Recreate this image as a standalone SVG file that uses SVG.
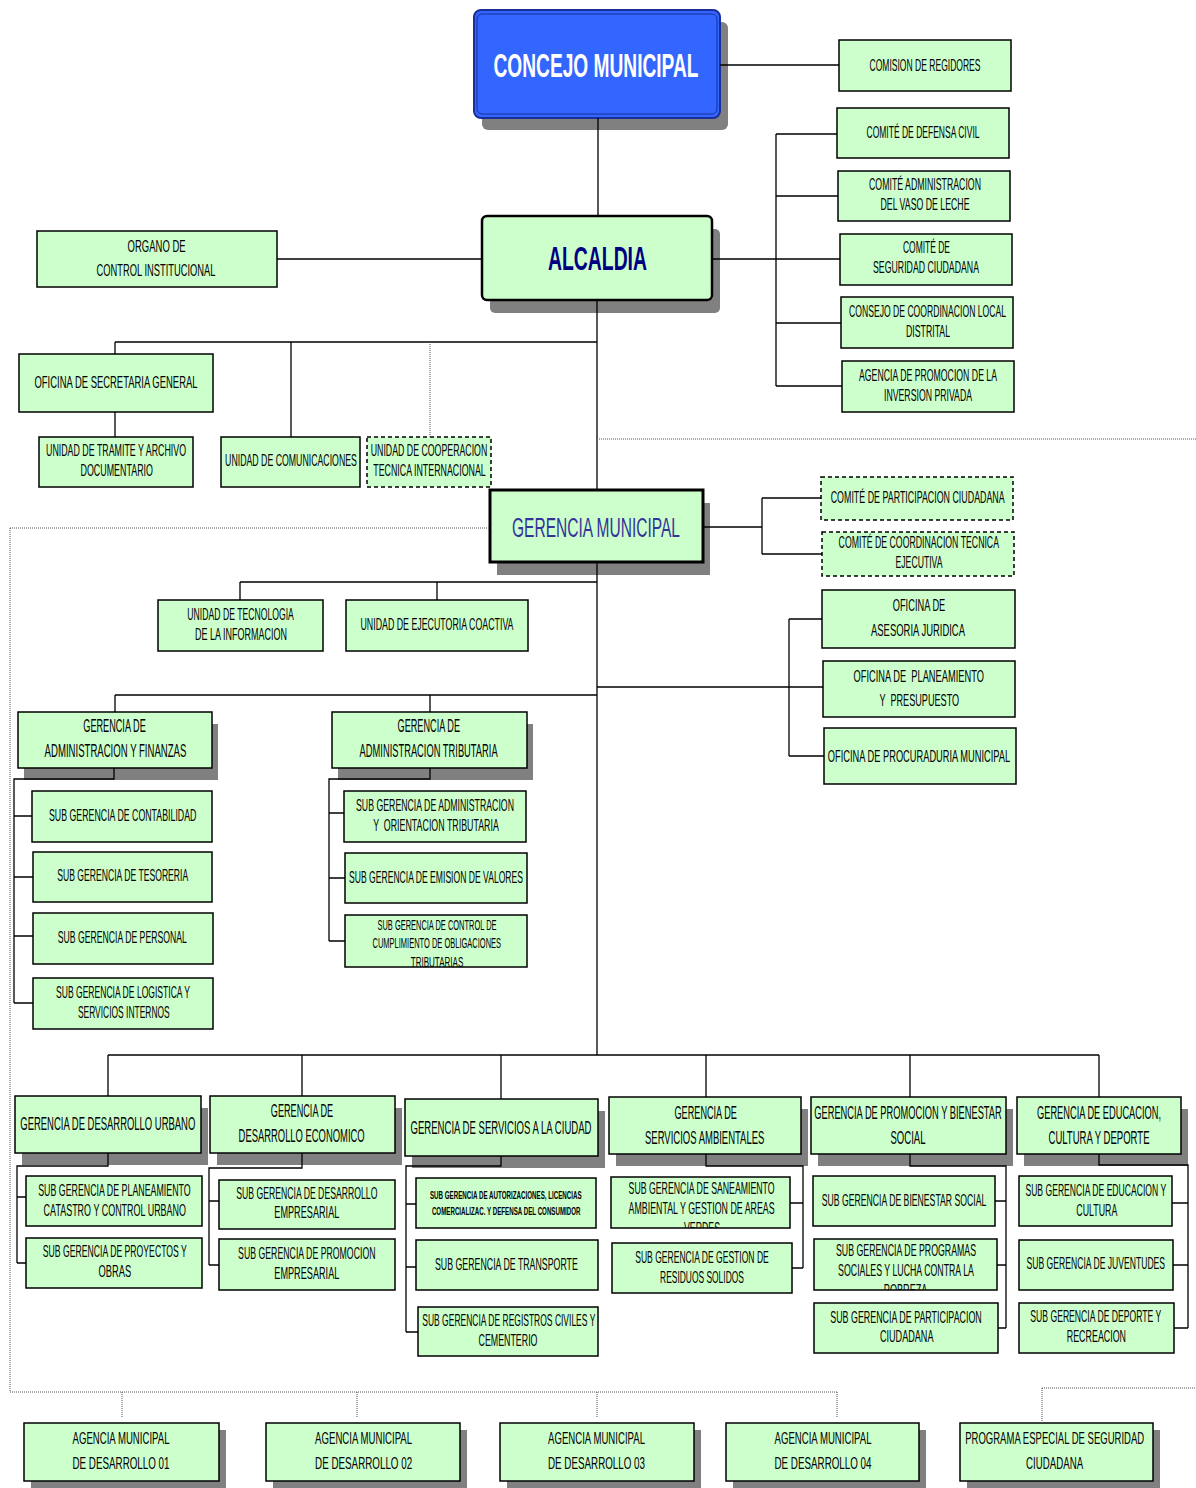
<svg xmlns="http://www.w3.org/2000/svg" width="1196" height="1488" viewBox="0 0 1196 1488">
<style>
.b{fill:#ccffcc;stroke:#000;stroke-width:1.5}
.bd{fill:#ccffcc;stroke:#000;stroke-width:1.5;stroke-dasharray:4 3}
.sh{fill:#808080}
text{font-family:"Liberation Sans",Arial,sans-serif;text-anchor:middle;fill:#000}
.t{font-size:16px}
.h{font-size:18px}
.s{font-size:14px}
.x{font-size:10px;font-weight:bold}
.c{stroke:#000;stroke-width:1.3;fill:none}
.d{stroke:#555;stroke-width:1;stroke-dasharray:1 1;fill:none}
</style>
<defs>
<clipPath id="clipCtrl"><rect x="345" y="915" width="182" height="52"/></clipPath>
<clipPath id="clipSan"><rect x="611" y="1177" width="179" height="51"/></clipPath>
<clipPath id="clipProg"><rect x="814" y="1239" width="183" height="51"/></clipPath>
</defs>
<rect width="1196" height="1488" fill="#fff"/>

<g id="concejo-municipal">
<rect class="sh" x="482" y="22" width="246" height="108" rx="6"/>
<rect x="474" y="10" width="246" height="108" rx="7" fill="#3366ff" stroke="#1a2f99" stroke-width="2"/>
<rect x="477" y="14" width="240" height="100" rx="5" fill="none" stroke="#1a2f99" stroke-width="1"/>
<text transform="translate(596 77) scale(.56 1)" style="font-size:34px;font-weight:bold;fill:#fff" textLength="366.1" lengthAdjust="spacingAndGlyphs">CONCEJO MUNICIPAL</text>
</g>
<g id="comision-regidores"><rect class="b" x="839" y="40" width="172" height="51"/><text class="t" transform="translate(925 70.7) scale(.535 1)" textLength="207.5" lengthAdjust="spacingAndGlyphs">COMISION DE REGIDORES</text></g>

<g id="alcaldia">
<rect class="sh" x="490" y="229" width="230" height="84" rx="5"/>
<rect x="482" y="216" width="230" height="84" rx="5" fill="#ccffcc" stroke="#000" stroke-width="2.5"/>
<text transform="translate(597.5 270) scale(.57 1)" style="font-size:34px;font-weight:bold;fill:#000080" textLength="173.7" lengthAdjust="spacingAndGlyphs">ALCALDIA</text>
</g>
<g id="organo-control"><rect class="b" x="37" y="231" width="240" height="56"/><text class="t" transform="translate(156.6 251.7) scale(.535 1)" textLength="108.4" lengthAdjust="spacingAndGlyphs">ORGANO DE</text><text class="t" transform="translate(156 276.4) scale(.535 1)" textLength="222.4" lengthAdjust="spacingAndGlyphs">CONTROL INSTITUCIONAL</text></g>
<g id="comite-defensa-civil"><rect class="b" x="837" y="108" width="172" height="50"/><text class="t" transform="translate(923 138.2) scale(.535 1)" textLength="211.2" lengthAdjust="spacingAndGlyphs">COMITÉ DE DEFENSA CIVIL</text></g>
<g id="comite-vaso-leche"><rect class="b" x="838" y="171" width="172" height="50"/><text class="t" transform="translate(925 189.7) scale(.535 1)" textLength="209.3" lengthAdjust="spacingAndGlyphs">COMITÉ ADMINISTRACION</text><text class="t" transform="translate(925 209.7) scale(.535 1)" textLength="166.4" lengthAdjust="spacingAndGlyphs">DEL VASO DE LECHE</text></g>
<g id="comite-seguridad"><rect class="b" x="840" y="234" width="172" height="51"/><text class="t" transform="translate(926.5 253.4) scale(.535 1)" textLength="87.9" lengthAdjust="spacingAndGlyphs">COMITÉ DE</text><text class="t" transform="translate(926 272.7) scale(.535 1)" textLength="198.1" lengthAdjust="spacingAndGlyphs">SEGURIDAD CIUDADANA</text></g>
<g id="consejo-coordinacion"><rect class="b" x="841" y="297" width="172" height="51"/><text class="t" transform="translate(927.5 317.4) scale(.535 1)" textLength="293.5" lengthAdjust="spacingAndGlyphs">CONSEJO DE COORDINACION LOCAL</text><text class="t" transform="translate(928 337.4) scale(.535 1)" textLength="82.2" lengthAdjust="spacingAndGlyphs">DISTRITAL</text></g>
<g id="agencia-promocion"><rect class="b" x="842" y="361" width="172" height="51"/><text class="t" transform="translate(928 380.7) scale(.535 1)" textLength="258" lengthAdjust="spacingAndGlyphs">AGENCIA DE PROMOCION DE LA</text><text class="t" transform="translate(928 400.7) scale(.535 1)" textLength="164.5" lengthAdjust="spacingAndGlyphs">INVERSION PRIVADA</text></g>

<g id="secretaria-general"><rect class="b" x="19" y="354" width="194" height="58"/><text class="t" transform="translate(116 388.4) scale(.535 1)" textLength="304.7" lengthAdjust="spacingAndGlyphs">OFICINA DE SECRETARIA GENERAL</text></g>
<g id="tramite-archivo"><rect class="b" x="39" y="437" width="154" height="50"/><text class="t" transform="translate(116 455.7) scale(.535 1)" textLength="261.7" lengthAdjust="spacingAndGlyphs">UNIDAD DE TRAMITE Y ARCHIVO</text><text class="t" transform="translate(116.7 476.4) scale(.535 1)" textLength="135.5" lengthAdjust="spacingAndGlyphs">DOCUMENTARIO</text></g>
<g id="comunicaciones"><rect class="b" x="221" y="437" width="139" height="50"/><text class="t" transform="translate(291 465.7) scale(.535 1)" textLength="246.4" lengthAdjust="spacingAndGlyphs">UNIDAD DE COMUNICACIONES</text></g>
<g id="cooperacion"><rect class="bd" x="367" y="437" width="124" height="50"/><text class="t" transform="translate(429 456.4) scale(.535 1)" textLength="217.9" lengthAdjust="spacingAndGlyphs">UNIDAD DE COOPERACION</text><text class="t" transform="translate(429.5 476.4) scale(.535 1)" textLength="210.3" lengthAdjust="spacingAndGlyphs">TECNICA INTERNACIONAL</text></g>

<g id="gerencia-municipal">
<rect class="sh" x="497" y="503" width="213" height="72"/>
<rect x="490" y="490" width="213" height="72" fill="#ccffcc" stroke="#000" stroke-width="3"/>
<text transform="translate(596 537) scale(.55 1)" style="font-size:28px;fill:#333399" textLength="305.5" lengthAdjust="spacingAndGlyphs">GERENCIA MUNICIPAL</text>
</g>
<g id="comite-participacion"><rect class="bd" x="821" y="477" width="192" height="43"/><text class="t" transform="translate(917.7 503) scale(.535 1)" textLength="325.2" lengthAdjust="spacingAndGlyphs">COMITÉ DE PARTICIPACION CIUDADANA</text></g>
<g id="comite-coordinacion-tecnica"><rect class="bd" x="822" y="532" width="192" height="44"/><text class="t" transform="translate(918.8 548.4) scale(.535 1)" textLength="299.8" lengthAdjust="spacingAndGlyphs">COMITÉ DE COORDINACION TECNICA</text><text class="t" transform="translate(919 568) scale(.535 1)" textLength="87.9" lengthAdjust="spacingAndGlyphs">EJECUTIVA</text></g>
<g id="tecnologia"><rect class="b" x="158" y="600" width="165" height="51"/><text class="t" transform="translate(240.6 619.7) scale(.535 1)" textLength="199.1" lengthAdjust="spacingAndGlyphs">UNIDAD DE TECNOLOGIA</text><text class="t" transform="translate(241 639.7) scale(.535 1)" textLength="172" lengthAdjust="spacingAndGlyphs">DE LA INFORMACION</text></g>
<g id="ejecutoria"><rect class="b" x="346" y="600" width="182" height="51"/><text class="t" transform="translate(437 629.7) scale(.535 1)" textLength="286" lengthAdjust="spacingAndGlyphs">UNIDAD DE EJECUTORIA COACTIVA</text></g>
<g id="asesoria-juridica"><rect class="b" x="822" y="590" width="193" height="58"/><text class="t" transform="translate(919 610.7) scale(.535 1)" textLength="98.1" lengthAdjust="spacingAndGlyphs">OFICINA DE</text><text class="t" transform="translate(918 635.7) scale(.535 1)" textLength="175.7" lengthAdjust="spacingAndGlyphs">ASESORIA JURIDICA</text></g>
<g id="planeamiento-presupuesto"><rect class="b" x="823" y="661" width="192" height="56"/><text class="t" transform="translate(918.7 681.7) scale(.535 1)" textLength="243.7" lengthAdjust="spacingAndGlyphs" xml:space="preserve">OFICINA DE  PLANEAMIENTO</text><text class="t" transform="translate(919.3 706.4) scale(.535 1)" textLength="149.2" lengthAdjust="spacingAndGlyphs" xml:space="preserve">Y  PRESUPUESTO</text></g>
<g id="procuraduria"><rect class="b" x="824" y="728" width="192" height="56"/><text class="t" transform="translate(919 761.7) scale(.535 1)" textLength="340.9" lengthAdjust="spacingAndGlyphs">OFICINA DE PROCURADURIA MUNICIPAL</text></g>

<g id="gerencia-adm-finanzas"><rect class="sh" x="24" y="724" width="194" height="56"/><rect class="b" x="18" y="712" width="194" height="56"/><text class="h" transform="translate(114.5 732.4) scale(.51 1)" textLength="122.5" lengthAdjust="spacingAndGlyphs">GERENCIA DE</text><text class="h" transform="translate(115.5 757.4) scale(.51 1)" textLength="278" lengthAdjust="spacingAndGlyphs">ADMINISTRACION Y FINANZAS</text></g>
<g id="gerencia-adm-tributaria"><rect class="sh" x="338" y="724" width="195" height="56"/><rect class="b" x="332" y="712" width="195" height="56"/><text class="h" transform="translate(428.8 732.4) scale(.51 1)" textLength="122.5" lengthAdjust="spacingAndGlyphs">GERENCIA DE</text><text class="h" transform="translate(428.6 757.4) scale(.51 1)" textLength="270.6" lengthAdjust="spacingAndGlyphs">ADMINISTRACION TRIBUTARIA</text></g>
<g id="sg-contabilidad"><rect class="b" x="32" y="791" width="180" height="51"/><text class="t" transform="translate(122.7 821.4) scale(.535 1)" textLength="275.7" lengthAdjust="spacingAndGlyphs">SUB GERENCIA DE CONTABILIDAD</text></g>
<g id="sg-tesoreria"><rect class="b" x="33" y="852" width="179" height="50"/><text class="t" transform="translate(122.7 881.4) scale(.535 1)" textLength="244.9" lengthAdjust="spacingAndGlyphs">SUB GERENCIA DE TESORERIA</text></g>
<g id="sg-personal"><rect class="b" x="33" y="913" width="180" height="51"/><text class="t" transform="translate(122.3 943) scale(.535 1)" textLength="241.1" lengthAdjust="spacingAndGlyphs">SUB GERENCIA DE PERSONAL</text></g>
<g id="sg-logistica"><rect class="b" x="33" y="978" width="180" height="51"/><text class="t" transform="translate(123 998.4) scale(.535 1)" textLength="250.5" lengthAdjust="spacingAndGlyphs">SUB GERENCIA DE LOGISTICA Y</text><text class="t" transform="translate(123.8 1018) scale(.535 1)" textLength="171.6" lengthAdjust="spacingAndGlyphs">SERVICIOS INTERNOS</text></g>
<g id="sg-adm-orientacion"><rect class="b" x="344" y="791" width="182" height="51"/><text class="t" transform="translate(435 810.7) scale(.535 1)" textLength="295.3" lengthAdjust="spacingAndGlyphs">SUB GERENCIA DE ADMINISTRACION</text><text class="t" transform="translate(436 830.7) scale(.535 1)" textLength="235" lengthAdjust="spacingAndGlyphs" xml:space="preserve">Y  ORIENTACION TRIBUTARIA</text></g>
<g id="sg-emision"><rect class="b" x="345" y="853" width="182" height="50"/><text class="t" transform="translate(436 883.4) scale(.535 1)" textLength="325.2" lengthAdjust="spacingAndGlyphs">SUB GERENCIA DE EMISION DE VALORES</text></g>
<g id="sg-control-cumplimiento"><rect class="b" x="345" y="915" width="182" height="52"/><g clip-path="url(#clipCtrl)"><text class="s" transform="translate(437 930) scale(.535 1)" textLength="222.4" lengthAdjust="spacingAndGlyphs">SUB GERENCIA DE CONTROL DE</text><text class="s" transform="translate(436.8 948.3) scale(.535 1)" textLength="240.4" lengthAdjust="spacingAndGlyphs">CUMPLIMIENTO DE OBLIGACIONES</text><text class="s" transform="translate(437 966.7) scale(.535 1)" textLength="98.1" lengthAdjust="spacingAndGlyphs">TRIBUTARIAS</text></g></g>

<g id="gerencia-desarrollo-urbano"><rect class="sh" x="22" y="1108" width="186" height="57"/><rect class="b" x="15" y="1096" width="186" height="57"/><text class="h" transform="translate(107.8 1130.4) scale(.51 1)" textLength="343.1" lengthAdjust="spacingAndGlyphs">GERENCIA DE DESARROLLO URBANO</text></g>
<g id="gerencia-desarrollo-economico"><rect class="sh" x="217" y="1108" width="185" height="57"/><rect class="b" x="210" y="1096" width="185" height="57"/><text class="h" transform="translate(302 1117.1) scale(.51 1)" textLength="122.2" lengthAdjust="spacingAndGlyphs">GERENCIA DE</text><text class="h" transform="translate(301.6 1142.1) scale(.51 1)" textLength="247.1" lengthAdjust="spacingAndGlyphs">DESARROLLO ECONOMICO</text></g>
<g id="gerencia-servicios-ciudad"><rect class="sh" x="412" y="1111" width="193" height="57"/><rect class="b" x="405" y="1099" width="193" height="57"/><text class="h" transform="translate(501 1133.7) scale(.51 1)" textLength="354.9" lengthAdjust="spacingAndGlyphs">GERENCIA DE SERVICIOS A LA CIUDAD</text></g>
<g id="gerencia-servicios-ambientales"><rect class="sh" x="616" y="1109" width="192" height="57"/><rect class="b" x="609" y="1097" width="192" height="57"/><text class="h" transform="translate(705.7 1119.1) scale(.51 1)" textLength="122.4" lengthAdjust="spacingAndGlyphs">GERENCIA DE</text><text class="h" transform="translate(704.7 1143.7) scale(.51 1)" textLength="234.1" lengthAdjust="spacingAndGlyphs">SERVICIOS AMBIENTALES</text></g>
<g id="gerencia-promocion-bienestar"><rect class="sh" x="818" y="1109" width="195" height="57"/><rect class="b" x="811" y="1097" width="195" height="57"/><text class="h" transform="translate(908 1119.1) scale(.51 1)" textLength="367.6" lengthAdjust="spacingAndGlyphs">GERENCIA DE PROMOCION Y BIENESTAR</text><text class="h" transform="translate(908 1143.7) scale(.51 1)" textLength="68.6" lengthAdjust="spacingAndGlyphs">SOCIAL</text></g>
<g id="gerencia-educacion"><rect class="sh" x="1024" y="1109" width="164" height="57"/><rect class="b" x="1017" y="1097" width="164" height="57"/><text class="h" transform="translate(1099 1119.1) scale(.51 1)" textLength="243.1" lengthAdjust="spacingAndGlyphs">GERENCIA DE EDUCACION,</text><text class="h" transform="translate(1099 1143.7) scale(.51 1)" textLength="198" lengthAdjust="spacingAndGlyphs">CULTURA Y DEPORTE</text></g>

<g id="sg-planeamiento-catastro"><rect class="b" x="26" y="1176" width="176" height="50"/><text class="t" transform="translate(114.4 1196.4) scale(.535 1)" textLength="285.1" lengthAdjust="spacingAndGlyphs">SUB GERENCIA DE PLANEAMIENTO</text><text class="t" transform="translate(114.8 1215.7) scale(.535 1)" textLength="266.2" lengthAdjust="spacingAndGlyphs">CATASTRO Y CONTROL URBANO</text></g>
<g id="sg-proyectos-obras"><rect class="b" x="26" y="1238" width="176" height="50"/><text class="t" transform="translate(114.8 1257.4) scale(.535 1)" textLength="269.2" lengthAdjust="spacingAndGlyphs">SUB GERENCIA DE PROYECTOS Y</text><text class="t" transform="translate(114.8 1277.4) scale(.535 1)" textLength="61.1" lengthAdjust="spacingAndGlyphs">OBRAS</text></g>
<g id="sg-desarrollo-empresarial"><rect class="b" x="219" y="1180" width="176" height="49"/><text class="t" transform="translate(306.8 1199) scale(.535 1)" textLength="263.9" lengthAdjust="spacingAndGlyphs">SUB GERENCIA DE DESARROLLO</text><text class="t" transform="translate(306.8 1218.4) scale(.535 1)" textLength="121.5" lengthAdjust="spacingAndGlyphs">EMPRESARIAL</text></g>
<g id="sg-promocion-empresarial"><rect class="b" x="219" y="1239" width="176" height="51"/><text class="t" transform="translate(306.8 1259) scale(.535 1)" textLength="256.8" lengthAdjust="spacingAndGlyphs">SUB GERENCIA DE PROMOCION</text><text class="t" transform="translate(306.8 1279) scale(.535 1)" textLength="121.5" lengthAdjust="spacingAndGlyphs">EMPRESARIAL</text></g>
<g id="sg-autorizaciones"><rect class="b" x="416" y="1178" width="180" height="50"/><text class="x" transform="translate(505.8 1198.6) scale(.53 1)" textLength="286.2" lengthAdjust="spacingAndGlyphs">SUB GERENCIA DE AUTORIZACIONES, LICENCIAS</text><text class="x" transform="translate(506.2 1215.3) scale(.53 1)" textLength="280.4" lengthAdjust="spacingAndGlyphs">COMERCIALIZAC. Y DEFENSA DEL CONSUMIDOR</text></g>
<g id="sg-transporte"><rect class="b" x="416" y="1240" width="182" height="50"/><text class="t" transform="translate(506.4 1269.7) scale(.535 1)" textLength="266.9" lengthAdjust="spacingAndGlyphs">SUB GERENCIA DE TRANSPORTE</text></g>
<g id="sg-registros-civiles"><rect class="b" x="418" y="1307" width="180" height="49"/><text class="t" transform="translate(508.8 1326.4) scale(.535 1)" textLength="323.4" lengthAdjust="spacingAndGlyphs">SUB GERENCIA DE REGISTROS CIVILES Y</text><text class="t" transform="translate(508 1345.7) scale(.535 1)" textLength="110.3" lengthAdjust="spacingAndGlyphs">CEMENTERIO</text></g>
<g id="sg-saneamiento"><rect class="b" x="611" y="1177" width="179" height="51"/><g clip-path="url(#clipSan)"><text class="t" transform="translate(701.6 1194) scale(.535 1)" textLength="272.9" lengthAdjust="spacingAndGlyphs">SUB GERENCIA DE SANEAMIENTO</text><text class="t" transform="translate(701.6 1214) scale(.535 1)" textLength="272.9" lengthAdjust="spacingAndGlyphs">AMBIENTAL Y GESTION DE AREAS</text><text class="t" transform="translate(702 1234) scale(.535 1)" textLength="67.3" lengthAdjust="spacingAndGlyphs">VERDES</text></g></g>
<g id="sg-residuos"><rect class="b" x="612" y="1243" width="180" height="50"/><text class="t" transform="translate(702 1263) scale(.535 1)" textLength="249.7" lengthAdjust="spacingAndGlyphs">SUB GERENCIA DE GESTION DE</text><text class="t" transform="translate(702 1283) scale(.535 1)" textLength="156.6" lengthAdjust="spacingAndGlyphs">RESIDUOS SOLIDOS</text></g>
<g id="sg-bienestar-social"><rect class="b" x="813" y="1176" width="182" height="50"/><text class="t" transform="translate(904 1205.7) scale(.535 1)" textLength="307.7" lengthAdjust="spacingAndGlyphs">SUB GERENCIA DE BIENESTAR SOCIAL</text></g>
<g id="sg-programas-sociales"><rect class="b" x="814" y="1239" width="183" height="51"/><g clip-path="url(#clipProg)"><text class="t" transform="translate(906 1255.7) scale(.535 1)" textLength="261.7" lengthAdjust="spacingAndGlyphs">SUB GERENCIA DE PROGRAMAS</text><text class="t" transform="translate(906 1275.7) scale(.535 1)" textLength="253.8" lengthAdjust="spacingAndGlyphs">SOCIALES Y LUCHA CONTRA LA</text><text class="t" transform="translate(905.6 1296) scale(.535 1)" textLength="81.5" lengthAdjust="spacingAndGlyphs">POBREZA</text></g></g>
<g id="sg-participacion-ciudadana"><rect class="b" x="814" y="1303" width="184" height="50"/><text class="t" transform="translate(906 1323) scale(.535 1)" textLength="283.2" lengthAdjust="spacingAndGlyphs">SUB GERENCIA DE PARTICIPACION</text><text class="t" transform="translate(906.7 1342.4) scale(.535 1)" textLength="100.2" lengthAdjust="spacingAndGlyphs">CIUDADANA</text></g>
<g id="sg-educacion-cultura"><rect class="b" x="1019" y="1176" width="153" height="50"/><text class="t" transform="translate(1095.8 1196.4) scale(.535 1)" textLength="263.2" lengthAdjust="spacingAndGlyphs">SUB GERENCIA DE EDUCACION Y</text><text class="t" transform="translate(1096.8 1215.7) scale(.535 1)" textLength="76.6" lengthAdjust="spacingAndGlyphs">CULTURA</text></g>
<g id="sg-juventudes"><rect class="b" x="1019" y="1240" width="154" height="50"/><text class="t" transform="translate(1095.8 1269) scale(.535 1)" textLength="258.9" lengthAdjust="spacingAndGlyphs">SUB GERENCIA DE JUVENTUDES</text></g>
<g id="sg-deporte"><rect class="b" x="1019" y="1303" width="155" height="50"/><text class="t" transform="translate(1095.8 1322.4) scale(.535 1)" textLength="244.9" lengthAdjust="spacingAndGlyphs">SUB GERENCIA DE DEPORTE Y</text><text class="t" transform="translate(1096.4 1342.4) scale(.535 1)" textLength="110.8" lengthAdjust="spacingAndGlyphs">RECREACION</text></g>

<g id="agencia-01"><rect class="sh" x="31" y="1430" width="195" height="58"/><rect class="b" x="24" y="1423" width="195" height="58"/><text class="t" transform="translate(121 1444) scale(.535 1)" textLength="181.3" lengthAdjust="spacingAndGlyphs">AGENCIA MUNICIPAL</text><text class="t" transform="translate(121 1469) scale(.535 1)" textLength="181.3" lengthAdjust="spacingAndGlyphs">DE DESARROLLO 01</text></g>
<g id="agencia-02"><rect class="sh" x="273" y="1430" width="194" height="58"/><rect class="b" x="266" y="1423" width="194" height="58"/><text class="t" transform="translate(363.6 1444) scale(.535 1)" textLength="181.3" lengthAdjust="spacingAndGlyphs">AGENCIA MUNICIPAL</text><text class="t" transform="translate(363.6 1469) scale(.535 1)" textLength="181.3" lengthAdjust="spacingAndGlyphs">DE DESARROLLO 02</text></g>
<g id="agencia-03"><rect class="sh" x="507" y="1430" width="194" height="58"/><rect class="b" x="500" y="1423" width="194" height="58"/><text class="t" transform="translate(596.5 1444) scale(.535 1)" textLength="181.3" lengthAdjust="spacingAndGlyphs">AGENCIA MUNICIPAL</text><text class="t" transform="translate(596.5 1469) scale(.535 1)" textLength="181.3" lengthAdjust="spacingAndGlyphs">DE DESARROLLO 03</text></g>
<g id="agencia-04"><rect class="sh" x="733" y="1430" width="193" height="58"/><rect class="b" x="726" y="1423" width="193" height="58"/><text class="t" transform="translate(823 1444) scale(.535 1)" textLength="181.3" lengthAdjust="spacingAndGlyphs">AGENCIA MUNICIPAL</text><text class="t" transform="translate(823 1469) scale(.535 1)" textLength="181.3" lengthAdjust="spacingAndGlyphs">DE DESARROLLO 04</text></g>
<g id="programa-seguridad"><rect class="sh" x="967" y="1430" width="193" height="58"/><rect class="b" x="960" y="1423" width="193" height="58"/><text class="t" transform="translate(1054.7 1444) scale(.535 1)" textLength="334.6" lengthAdjust="spacingAndGlyphs">PROGRAMA ESPECIAL DE SEGURIDAD</text><text class="t" transform="translate(1054.6 1469) scale(.535 1)" textLength="106.5" lengthAdjust="spacingAndGlyphs">CIUDADANA</text></g>

<g id="connectors">
<path class="c" d="M720 65H839M598 118V216M277 259H482M712 259H840M776 134V386M776 134H837M776 196H838M776 323H841M776 386H842M597 300V490M115 342H597M115 342V354M115 412V437M291 342V437M703 527H762M762 498V554M762 498H821M762 554H822M597 562V1055M240 582H597M240 582V600M437 582V600M115 695H597M115 695V712M430 695V712M597 687H823M789 619V756M789 619H822M789 756H824"/>
<path class="c" d="M114 768V779H14V1003M14 816H32M14 877H33M14 936H33M14 1003H33M430 768V779H329V941M329 813H344M329 878H345M329 941H345"/>
<path class="c" d="M108 1055H1099M108 1055V1096M302 1055V1096M501 1055V1099M706 1055V1097M910 1055V1097M1099 1055V1097"/>
<path class="c" d="M108 1153V1166H17V1263M17 1197H26M17 1263H26M302 1153V1168H209V1265M209 1201H219M209 1265H219M501 1156V1166H406V1332M406 1204H416M406 1267H416M406 1332H418M706 1154V1166H803V1268M790 1203H803M792 1268H803M910 1154V1166H1006V1328M995 1201H1006M997 1265H1006M998 1328H1006M1099 1154V1165H1188V1328M1172 1203H1188M1173 1265H1188M1174 1328H1188"/>
<path class="d" d="M430 342V437M599 439H1196M10 528H490M10 528V1392H837M122 1392V1418M357 1392V1418M597 1392V1418M837 1392V1418M1042 1388H1196M1042 1388V1423"/>
</g>
</svg>
